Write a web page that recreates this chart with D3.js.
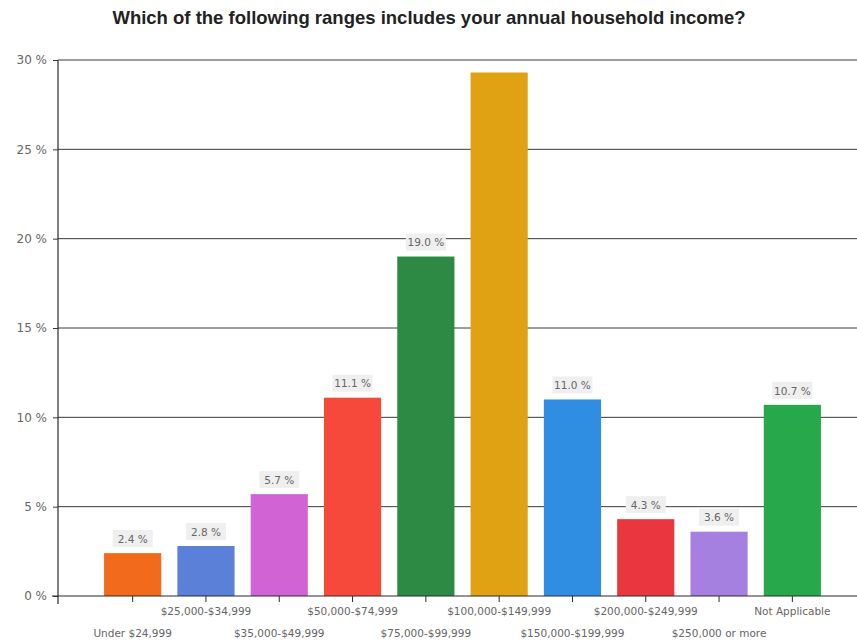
<!DOCTYPE html>
<html>
<head>
<meta charset="utf-8">
<script src="https://cdn.jsdelivr.net/npm/d3@7"></script>
<style>
  html, body { margin: 0; padding: 0; background: #fff; }
  svg { display: block; }
</style>
</head>
<body>
<script>
const categories = [
  "Under $24,999", "$25,000-$34,999", "$35,000-$49,999", "$50,000-$74,999",
  "$75,000-$99,999", "$100,000-$149,999", "$150,000-$199,999",
  "$200,000-$249,999", "$250,000 or more", "Not Applicable"
];
const values = [2.4, 2.8, 5.7, 11.1, 19.0, 29.3, 11.0, 4.3, 3.6, 10.7];
const colors = ["#f26b1d", "#5a80d8", "#d263d4", "#f7493b", "#2d8a45",
                "#e0a112", "#2f8ee2", "#e9363f", "#a680e0", "#27a84b"];
const yTicks = [0, 5, 10, 15, 20, 25, 30];

const W = 857, H = 640;
const svg = d3.select("body").append("svg").attr("width", W).attr("height", H);

const plotLeft = 58, plotRight = 857, plotTop = 60, plotBottom = 596;

const x = d3.scaleBand().domain(categories).range([96, 829])
  .paddingInner(0.22).paddingOuter(0.11);
const y = d3.scaleLinear().domain([0, 30]).range([plotBottom, plotTop]);

svg.append("text")
  .attr("x", 429).attr("y", 24)
  .attr("text-anchor", "middle")
  .attr("font-family", "Liberation Sans, Arial, sans-serif")
  .attr("font-weight", "bold").attr("font-size", 18.5)
  .attr("fill", "#222")
  .text("Which of the following ranges includes your annual household income?");

// gridlines
svg.append("g").selectAll("line").data(yTicks.filter(d => d > 0)).join("line")
  .attr("x1", plotLeft).attr("x2", plotRight)
  .attr("y1", d => y(d)).attr("y2", d => y(d))
  .attr("stroke", "#3a3a3a").attr("stroke-width", 1);

// bars
svg.append("g").selectAll("rect").data(values).join("rect")
  .attr("x", (d, i) => x(categories[i]))
  .attr("width", x.bandwidth())
  .attr("y", d => y(d))
  .attr("height", d => y(0) - y(d))
  .attr("fill", (d, i) => colors[i]);

// value labels
const lab = svg.append("g").selectAll("g")
  .data(values.map((v, i) => ({v, i})).filter(d => y(d.v) - 14 > plotTop + 8))
  .join("g")
  .attr("transform", d => `translate(${x(categories[d.i]) + x.bandwidth() / 2},${y(d.v) - 14})`);
lab.append("rect")
  .attr("x", -20).attr("y", -9).attr("width", 40).attr("height", 17)
  .attr("fill", "#efefef");
lab.append("text")
  .attr("text-anchor", "middle").attr("dy", "0.35em")
  .attr("font-family", "DejaVu Sans, sans-serif").attr("font-size", 10.5)
  .attr("fill", "#666")
  .text(d => d.v.toFixed(1) + " %");

// y axis
const yAxis = d3.axisLeft(y).tickValues(yTicks).tickSize(5).tickPadding(6)
  .tickFormat(d => d + " %");
const gy = svg.append("g").attr("transform", `translate(${plotLeft},0)`).call(yAxis);
gy.select(".domain").remove();
gy.selectAll(".tick line").attr("stroke", "#3a3a3a");
gy.selectAll(".tick text").attr("font-family", "DejaVu Sans, sans-serif")
  .attr("font-size", 12).attr("fill", "#666");
svg.append("line").attr("x1", plotLeft).attr("x2", plotLeft)
  .attr("y1", plotTop).attr("y2", plotBottom + 8)
  .attr("stroke", "#2a2a2a").attr("stroke-width", 1.2);

// x axis
const xAxis = d3.axisBottom(x).tickSize(6).tickFormat("");
const gx = svg.append("g").attr("transform", `translate(0,${plotBottom})`).call(xAxis);
gx.select(".domain").remove();
gx.selectAll(".tick line").attr("stroke", "#2a2a2a");
svg.append("line").attr("x1", plotLeft - 6).attr("x2", plotRight)
  .attr("y1", plotBottom).attr("y2", plotBottom)
  .attr("stroke", "#2a2a2a").attr("stroke-width", 1.2);

// staggered category labels
svg.append("g").selectAll("text").data(categories).join("text")
  .attr("x", d => x(d) + x.bandwidth() / 2)
  .attr("y", (d, i) => i % 2 === 1 ? 615 : 637)
  .attr("text-anchor", "middle")
  .attr("font-family", "DejaVu Sans, sans-serif").attr("font-size", 10.5)
  .attr("fill", "#666")
  .text(d => d);
</script>
</body>
</html>
